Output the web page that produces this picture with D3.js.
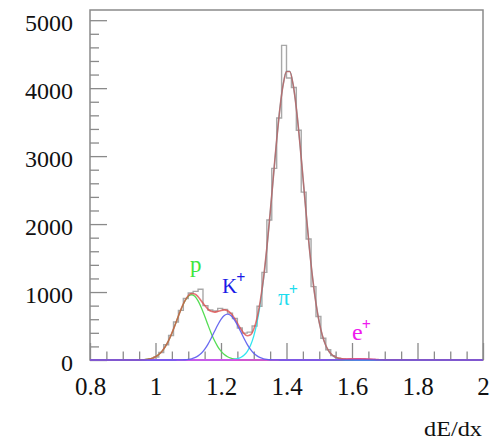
<!DOCTYPE html>
<html>
<head>
<meta charset="utf-8">
<script src="https://cdn.jsdelivr.net/npm/d3@7"></script>
<style>
body { margin: 0; background: #fff; }
svg { display: block; }
text { font-family: "Liberation Serif", "Times New Roman", serif; fill: #111; }
</style>
</head>
<body>
<svg></svg>
<script>
// tick labels
var xTicks = [0.8, 1, 1.2, 1.4, 1.6, 1.8, 2];
var yTicks = [0, 1000, 2000, 3000, 4000, 5000];

// histogram: 80 bins of 0.015 from 0.8
var binStart = 0.8;
var binWidth = 0.015;
var histCounts = [
    0, 0, 0, 0, 0, 0, 0, 0, 0, 0, 0, 5, 12, 45, 110, 225, 360, 560, 730, 905,
    985, 1010, 1040, 800, 735, 720, 760, 745, 690, 610, 470, 395, 410, 500, 790, 1290, 2060, 2820, 3560, 4630,
    4150, 4010, 3380, 2470, 1780, 1080, 640, 320, 150, 65, 28, 15, 12, 16, 13, 15, 11, 8, 5, 3,
    0, 0, 0, 0, 0, 0, 0, 0, 0, 0, 0, 0, 0, 0, 0, 0, 0, 0, 0, 0
];

// fitted curves
var fitX = [0.8,
    0.94, 0.95, 0.96, 0.97, 0.98, 0.99, 1.00, 1.01, 1.02, 1.03, 1.04, 1.05, 1.06, 1.07, 1.08, 1.09,
    1.10, 1.11, 1.12, 1.13, 1.14, 1.15, 1.16, 1.17, 1.18, 1.19, 1.20, 1.21, 1.22, 1.23, 1.24, 1.25,
    1.26, 1.27, 1.28, 1.29, 1.30, 1.31, 1.32, 1.33, 1.34, 1.35, 1.36, 1.37, 1.38, 1.39, 1.40, 1.41,
    1.42, 1.43, 1.44, 1.45, 1.46, 1.47, 1.48, 1.49, 1.50, 1.51, 1.52, 1.53, 1.54, 1.55, 1.56, 1.57,
    1.58, 1.59, 1.60, 1.61, 1.62, 1.63, 1.64, 1.65, 1.66, 1.67, 1.68, 1.69, 1.70,
    2.0];
var fitP = [0,
    1, 2, 4, 8, 15, 27, 48, 81, 130, 198, 286, 395, 518, 647, 769, 870,
    937, 960, 937, 870, 769, 647, 518, 395, 286, 198, 130, 81, 48, 27, 15, 8,
    4, 2, 1, 0, 0, 0, 0, 0, 0, 0, 0, 0, 0, 0, 0, 0,
    0, 0, 0, 0, 0, 0, 0, 0, 0, 0, 0, 0, 0, 0, 0, 0,
    0, 0, 0, 0, 0, 0, 0, 0, 0, 0, 0, 0, 0,
    0];
var fitK = [0,
    0, 0, 0, 0, 0, 0, 0, 0, 0, 0, 0, 0, 0, 1, 2, 4,
    9, 18, 34, 61, 100, 157, 231, 321, 419, 516, 599, 655, 675, 655, 599, 516,
    419, 321, 231, 157, 100, 61, 34, 18, 9, 4, 2, 1, 0, 0, 0, 0,
    0, 0, 0, 0, 0, 0, 0, 0, 0, 0, 0, 0, 0, 0, 0, 0,
    0, 0, 0, 0, 0, 0, 0, 0, 0, 0, 0, 0, 0,
    0];
var fitPi = [0,
    0, 0, 0, 0, 0, 0, 0, 0, 0, 0, 0, 0, 0, 0, 0, 0,
    0, 0, 0, 0, 0, 0, 0, 0, 0, 0, 0, 1, 2, 4, 9, 19,
    37, 69, 124, 214, 352, 554, 833, 1195, 1641, 2153, 2700, 3236, 3707, 4058, 4246, 4246,
    4058, 3707, 3236, 2700, 2153, 1641, 1195, 833, 554, 352, 214, 124, 69, 37, 19, 9,
    4, 2, 1, 0, 0, 0, 0, 0, 0, 0, 0, 0, 0,
    0];
var fitE = [0,
    0, 0, 0, 0, 0, 0, 0, 0, 0, 0, 0, 0, 0, 0, 0, 0,
    0, 0, 0, 0, 0, 0, 0, 0, 0, 0, 0, 0, 0, 0, 0, 0,
    0, 0, 0, 0, 0, 0, 0, 0, 0, 0, 0, 0, 0, 0, 0, 0,
    0, 0, 0, 0, 0, 0, 0, 0, 0, 0, 0, 1, 2, 3, 5, 7,
    9, 11, 13, 14, 15, 14, 13, 11, 9, 7, 5, 3, 2,
    0];
var fitTotal = [0,
    1, 2, 4, 8, 15, 27, 48, 81, 130, 198, 286, 395, 518, 648, 771, 874,
    946, 978, 971, 931, 869, 804, 749, 716, 705, 714, 729, 737, 725, 686, 623, 543,
    460, 392, 356, 371, 452, 615, 867, 1213, 1650, 2157, 2702, 3237, 3707, 4058, 4246, 4246,
    4058, 3707, 3236, 2700, 2153, 1641, 1195, 833, 554, 352, 214, 125, 71, 40, 24, 16,
    13, 13, 14, 14, 15, 14, 13, 11, 9, 7, 5, 3, 2,
    0];

var svg = d3.select("svg")
    .attr("width", 494)
    .attr("height", 442);

var x = d3.scaleLinear().domain([0.8, 2]).range([90, 483]);
var y = d3.scaleLinear().domain([0, 5150]).range([360, 10]);

var frameColor = "#8a8a8a";

// frame
svg.append("rect")
    .attr("x", x(0.8))
    .attr("y", y(5150))
    .attr("width", x(2) - x(0.8))
    .attr("height", y(0) - y(5150))
    .attr("fill", "none")
    .attr("stroke", frameColor)
    .attr("stroke-width", 1.5);

// minor ticks
var xMinor = d3.range(0.85, 2, 0.05).filter(function(v) { return Math.abs(v * 5 - Math.round(v * 5)) > 1e-6; });
var yMinor = d3.range(200, 5001, 200).filter(function(v) { return v % 1000 != 0; });

svg.append("g")
    .attr("transform", "translate(0," + y(0) + ")")
    .call(d3.axisBottom(x).tickValues(xMinor).tickSize(-8.5).tickFormat(""))
    .call(function(g) { g.select(".domain").remove(); g.selectAll("line").attr("stroke", frameColor).attr("stroke-width", 1.3); });

svg.append("g")
    .attr("transform", "translate(" + x(0.8) + ",0)")
    .call(d3.axisLeft(y).tickValues(yMinor).tickSize(-9).tickFormat(""))
    .call(function(g) { g.select(".domain").remove(); g.selectAll("line").attr("stroke", frameColor).attr("stroke-width", 1.3); });

// major ticks + labels
var xAxis = svg.append("g")
    .attr("transform", "translate(0," + y(0) + ")")
    .call(d3.axisBottom(x).tickValues(xTicks).tickSizeInner(-17).tickSizeOuter(0).tickPadding(17).tickFormat(d3.format("~g")));
xAxis.select(".domain").remove();
xAxis.selectAll("line").attr("stroke", frameColor).attr("stroke-width", 1.3);
xAxis.selectAll("text")
    .attr("font-family", "Liberation Serif")
    .attr("font-size", 25)
    .attr("fill", "#111")
    .attr("dy", "0.71em");

var yAxis = svg.append("g")
    .attr("transform", "translate(" + x(0.8) + ",0)")
    .call(d3.axisLeft(y).tickValues(yTicks).tickSizeInner(-17).tickSizeOuter(0).tickPadding(17).tickFormat(d3.format("d")));
yAxis.select(".domain").remove();
yAxis.selectAll("line").attr("stroke", frameColor).attr("stroke-width", 1.3);
yAxis.selectAll("text")
    .attr("font-family", "Liberation Serif")
    .attr("font-size", 24)
    .attr("fill", "#111")
    .attr("dy", "0.42em");

// histogram outline
var histPts = [];
histCounts.forEach(function(c, i) {
    var lo = binStart + i * binWidth;
    histPts.push([lo, c]);
    histPts.push([lo + binWidth, c]);
});

svg.append("path")
    .datum(histPts)
    .attr("fill", "none")
    .attr("stroke", "#a8a8a8")
    .attr("stroke-width", 1.4)
    .attr("d", d3.line()
        .x(function(d) { return x(d[0]); })
        .y(function(d) { return y(d[1]); }));

// fit curves
var fitLine = d3.line()
    .x(function(d) { return x(d[0]); })
    .y(function(d) { return y(d[1]); })
    .curve(d3.curveMonotoneX);

function drawFit(vals, color, width, opacity) {
    svg.append("path")
        .datum(fitX.map(function(v, i) { return [v, vals[i]]; }))
        .attr("fill", "none")
        .attr("stroke", color)
        .attr("stroke-width", width)
        .attr("stroke-opacity", opacity)
        .attr("d", fitLine);
}

drawFit(fitP, "#55dd55", 1.3, 1);
drawFit(fitPi, "#33e6f0", 1.3, 1);
drawFit(fitE, "#ee33ee", 1.3, 1);
drawFit(fitTotal, "#dd4848", 1.6, 0.75);
drawFit(fitK, "#5a5aee", 1.3, 0.9);

// particle labels
function particle(label, sup, color, px, py, size) {
    var t = svg.append("text")
        .attr("x", px)
        .attr("y", py)
        .attr("font-size", size)
        .style("fill", color)
        .text(label);
    if (sup) {
        t.append("tspan")
            .attr("dy", -10)
            .attr("dx", -1)
            .attr("font-size", 16)
            .attr("font-weight", "bold")
            .text(sup);
    }
}

particle("p", null, "#3ee63e", 190, 272, 23);
particle("K", "+", "#1a1ae6", 222, 293, 21);
particle("\u03c0", "+", "#1ddcee", 278, 305, 23);
particle("e", "+", "#ee1aee", 352, 340, 24);

// axis title
svg.append("text")
    .attr("x", 482)
    .attr("y", 436)
    .attr("text-anchor", "end")
    .attr("font-size", 20)
    .attr("textLength", 58)
    .attr("lengthAdjust", "spacingAndGlyphs")
    .text("dE/dx");
</script>
</body>
</html>
